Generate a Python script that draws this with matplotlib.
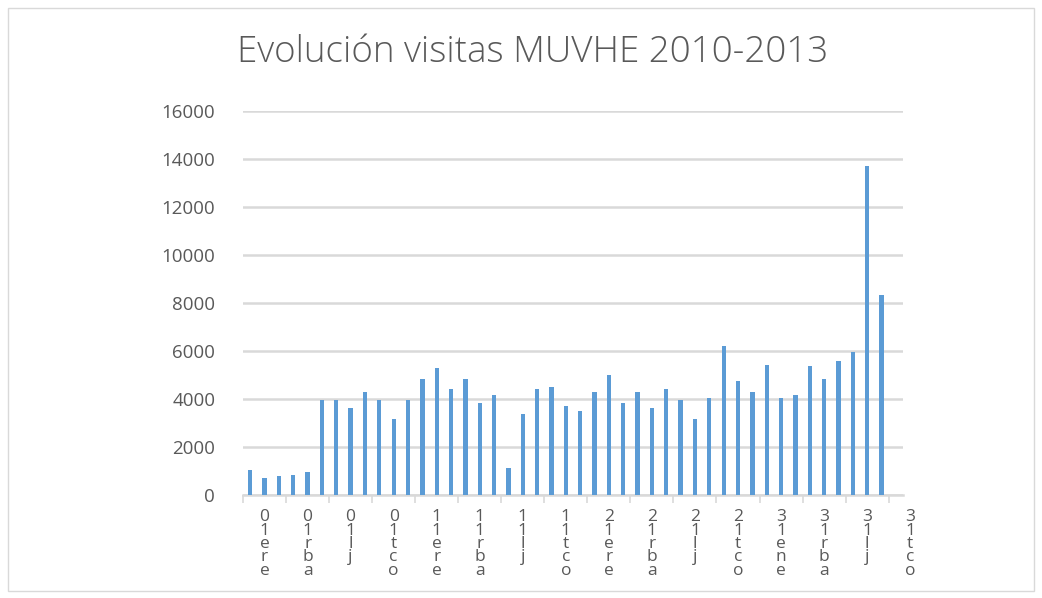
import numpy as np
import matplotlib
matplotlib.use("Agg")
import matplotlib.pyplot as plt
from matplotlib.patches import Rectangle

# monthly visits, ene 2010 .. oct 2013 (last month empty)
visitas = [1030, 700, 810, 820, 950, 3960, 3960, 3610, 4300, 3960,
           3160, 3960, 4850, 5300, 4400, 4850, 3850, 4180, 1140, 3380,
           4400, 4510, 3720, 3510, 4300, 4980, 3850, 4300, 3610, 4400,
           3950, 3160, 4040, 6200, 4740, 4300, 5400, 4040, 4150, 5360,
           4830, 5600, 5950, 13700, 8330, np.nan]

# visible (clipped) category labels, one every 3 months
etiquetas = ["0\n1\ne\nr\ne", "0\n1\nr\nb\na", "0\n1\nl\nj", "0\n1\nt\nc\no",
             "1\n1\ne\nr\ne", "1\n1\nr\nb\na", "1\n1\nl\nj", "1\n1\nt\nc\no",
             "2\n1\ne\nr\ne", "2\n1\nr\nb\na", "2\n1\nl\nj", "2\n1\nt\nc\no",
             "3\n1\ne\nn\ne", "3\n1\nr\nb\na", "3\n1\nl\nj", "3\n1\nt\nc\no"]

yticks = [0, 2000, 4000, 6000, 8000, 10000, 12000, 14000, 16000]

gris = "#595959"
linea = "#D9D9D9"

fig = plt.figure(figsize=(10.42, 5.98), dpi=100)
fig.patches.append(Rectangle((0.008, 0.012), 0.984, 0.975, transform=fig.transFigure,
                             fill=False, edgecolor=linea, lw=1))

ax = fig.add_axes([243/1042, 1-495/598, 660/1042, 384/598])
x = np.arange(len(visitas))
ax.bar(x, visitas, width=0.3, color="#5B9BD5", zorder=3)

ax.set_xlim(-0.5, len(visitas)-0.5)
ax.set_ylim(0, 16000)
ax.set_yticks(yticks)
ax.set_yticklabels([f"{v}" for v in yticks], fontsize=13.5, color=gris, family="Open Sans")
ax.tick_params(axis="y", length=0, pad=20)
ax.grid(axis="y", color=linea, lw=1.8, zorder=0)

for s in ["top", "right", "left"]:
    ax.spines[s].set_visible(False)
ax.spines["bottom"].set_color(linea)
ax.spines["bottom"].set_linewidth(1.8)

ax.set_xticks(np.arange(-0.5, len(visitas), 3))
ax.set_xticklabels([])
ax.tick_params(axis="x", length=6, width=1.2, color=linea)

for i, lab in enumerate(etiquetas):
    ax.text(i*3 + 1, -600, lab, ha="center", va="top", fontsize=12.5, color=gris,
            linespacing=0.78, clip_on=False, family="Open Sans")

fig.text(533/1042, 1-53/598, "Evolución visitas MUVHE 2010-2013", ha="center", va="center",
         fontsize=26.5, color=gris, family="Open Sans", fontweight="light")

fig.savefig("out.png", dpi=100)
